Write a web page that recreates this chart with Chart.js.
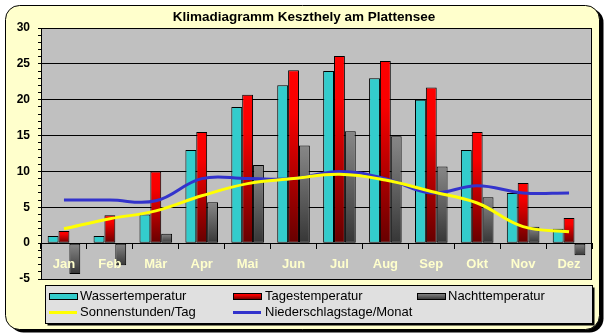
<!DOCTYPE html>
<html>
<head>
<meta charset="utf-8">
<script src="https://cdn.jsdelivr.net/npm/chart.js@4/dist/chart.umd.min.js"></script>
<style>
  html, body { margin: 0; padding: 0; background: #ffffff; }
  canvas { display: block; }
</style>
</head>
<body>
<canvas id="klima" width="609" height="336"></canvas>
<script>
// Monatswerte Keszthely am Plattensee
const monate = ['Jan', 'Feb', 'Mär', 'Apr', 'Mai', 'Jun', 'Jul', 'Aug', 'Sep', 'Okt', 'Nov', 'Dez'];
const wassertemperatur = [1, 1, 4, 13, 19, 22, 24, 23, 20, 13, 7, 2];
const tagestemperatur = [1.7, 3.9, 10, 15.5, 20.7, 24.1, 26.1, 25.4, 21.7, 15.5, 8.4, 3.5];
const nachttemperatur = [-4.3, -3.1, 1.3, 5.7, 10.9, 13.6, 15.6, 14.9, 10.7, 6.4, 2.3, -1.7];
const sonnenstunden = [2.0, 3.4, 4.5, 6.6, 8.3, 9.0, 9.6, 8.8, 7.2, 5.6, 2.3, 1.6];
const niederschlagstage = [6.0, 6.0, 5.9, 9.0, 9.0, 9.0, 10.0, 9.0, 7.0, 8.0, 7.0, 7.0];
const yTicks = { min: -5, max: 30, major: 5 };

const FONT = '"Liberation Sans", Arial, sans-serif';
const FRAME_BG = '#FFFFCC';
const PLOT_BG = '#C0C0C0';
const LEGEND_BG = '#E0E0E0';

const RED_STOPS = [[0, '#FF0000'], [0.25, '#F80000'], [1, '#660000']];
const GRAY_STOPS = [[0, '#868686'], [0.1, '#808080'], [1, '#363636']];

function gradientFor(ctx, y0, y1, stops) {
  const g = ctx.createLinearGradient(0, y0, 0, y1);
  stops.forEach(([o, c]) => g.addColorStop(o, c));
  return g;
}

// Each bar gets its own vertical gradient, light at the top edge, dark at the bottom edge
function barFill(stops, fallback) {
  return (c) => {
    const chart = c.chart;
    if (c.type !== 'data' || !chart.chartArea || !chart.scales.y) return fallback;
    const v = c.raw;
    const y = chart.scales.y;
    const top = y.getPixelForValue(Math.max(v, 0));
    const bottom = y.getPixelForValue(Math.min(v, 0));
    if (Math.abs(bottom - top) < 1) return fallback;
    return gradientFor(chart.ctx, top, bottom, stops);
  };
}

function roundRect(ctx, x, y, w, h, r) {
  ctx.beginPath();
  ctx.moveTo(x + r, y);
  ctx.lineTo(x + w - r, y);
  ctx.arcTo(x + w, y, x + w, y + r, r);
  ctx.lineTo(x + w, y + h - r);
  ctx.arcTo(x + w, y + h, x + w - r, y + h, r);
  ctx.lineTo(x + r, y + h);
  ctx.arcTo(x, y + h, x, y + h - r, r);
  ctx.lineTo(x, y + r);
  ctx.arcTo(x, y, x + r, y, r);
  ctx.closePath();
}

// Rounded frame, title, plot background and the plot border
const framePlugin = {
  id: 'frame',
  beforeDraw(chart) {
    const ctx = chart.ctx;
    const a = chart.chartArea;
    ctx.save();
    ctx.fillStyle = '#ffffff';
    ctx.fillRect(0, 0, chart.width, chart.height);
    roundRect(ctx, 9.5, 8.5, 594, 324, 14);
    ctx.fillStyle = '#000000';
    ctx.fill();
    roundRect(ctx, 5.5, 5.5, 594, 324, 14);
    ctx.fillStyle = FRAME_BG;
    ctx.fill();
    ctx.lineWidth = 1;
    ctx.strokeStyle = '#000000';
    ctx.stroke();

    ctx.fillStyle = '#000000';
    ctx.font = 'bold 13.5px ' + FONT;
    ctx.textAlign = 'center';
    ctx.textBaseline = 'middle';
    ctx.fillText('Klimadiagramm Keszthely am Plattensee', 304, 17);

    ctx.fillStyle = PLOT_BG;
    ctx.fillRect(a.left, a.top, a.right - a.left, a.bottom - a.top);
    ctx.restore();
  },
  beforeDatasetsDraw(chart) {
    const ctx = chart.ctx;
    const a = chart.chartArea;
    ctx.save();
    ctx.strokeStyle = '#000000';
    ctx.lineWidth = 1;
    ctx.strokeRect(Math.round(a.left) + 0.5, Math.round(a.top) + 0.5,
      Math.round(a.right - a.left) - 1, Math.round(a.bottom - a.top));
    ctx.restore();
  }
};

// Legend laid out as a fixed three-column grid in a shadowed box
const gridLegendPlugin = {
  id: 'gridLegend',
  afterDraw(chart) {
    const ctx = chart.ctx;
    const box = { x: 45.5, y: 285.5, w: 547, h: 38 };
    const cols = [{ sx: 49, tx: 80 }, { sx: 233, tx: 265 }, { sx: 417, tx: 448 }];
    const rows = [296, 312.5];
    const swW = 28;
    ctx.save();
    ctx.fillStyle = '#000000';
    ctx.fillRect(box.x + 2, box.y + 2, box.w, box.h);
    ctx.fillStyle = LEGEND_BG;
    ctx.fillRect(box.x, box.y, box.w, box.h);
    ctx.strokeStyle = '#000000';
    ctx.lineWidth = 1;
    ctx.strokeRect(box.x, box.y, box.w, box.h);

    ctx.font = '13px ' + FONT;
    ctx.textAlign = 'left';
    ctx.textBaseline = 'middle';
    chart.data.datasets.forEach((ds, i) => {
      const col = cols[i % 3];
      const cy = rows[Math.floor(i / 3)];
      if (ds.type === 'line') {
        ctx.strokeStyle = ds.borderColor;
        ctx.lineWidth = 3;
        ctx.beginPath();
        ctx.moveTo(col.sx, cy);
        ctx.lineTo(col.sx + swW, cy);
        ctx.stroke();
      } else {
        const top = Math.round(cy - 3) + 0.5;
        ctx.fillStyle = ds.legendStops ? gradientFor(ctx, top, top + 6, ds.legendStops) : ds.legendColor;
        ctx.fillRect(col.sx + 0.5, top, swW, 6);
        ctx.strokeStyle = '#000000';
        ctx.lineWidth = 1;
        ctx.strokeRect(col.sx + 0.5, top, swW, 6);
      }
      ctx.fillStyle = '#000000';
      ctx.fillText(ds.label, col.tx, cy);
    });
    ctx.restore();
  }
};

const barCommon = {
  type: 'bar',
  borderColor: '#000000',
  borderWidth: 1,
  borderSkipped: false,
  categoryPercentage: 0.71,
  barPercentage: 1.0,
  order: 2
};

const lineCommon = {
  type: 'line',
  borderWidth: 3,
  pointRadius: 0,
  pointHoverRadius: 0,
  tension: 0.4,
  fill: false,
  order: 1
};

new Chart(document.getElementById('klima'), {
  type: 'bar',
  data: {
    labels: monate,
    datasets: [
      Object.assign({}, barCommon, {
        label: 'Wassertemperatur',
        data: wassertemperatur,
        backgroundColor: '#33CCCC',
        legendColor: '#33CCCC'
      }),
      Object.assign({}, barCommon, {
        label: 'Tagestemperatur',
        data: tagestemperatur,
        backgroundColor: barFill(RED_STOPS, '#CC0000'),
        legendStops: RED_STOPS
      }),
      Object.assign({}, barCommon, {
        label: 'Nachttemperatur',
        data: nachttemperatur,
        backgroundColor: barFill(GRAY_STOPS, '#606060'),
        legendStops: GRAY_STOPS
      }),
      Object.assign({}, lineCommon, {
        label: 'Sonnenstunden/Tag',
        data: sonnenstunden,
        borderColor: '#FFFF00',
        backgroundColor: '#FFFF00'
      }),
      Object.assign({}, lineCommon, {
        label: 'Niederschlagstage/Monat',
        data: niederschlagstage,
        borderColor: '#3333CC',
        backgroundColor: '#3333CC',
        order: 1.5
      })
    ]
  },
  options: {
    responsive: false,
    animation: false,
    events: [],
    layout: { padding: { left: 0, top: 28, right: 17, bottom: 57 } },
    plugins: {
      legend: { display: false },
      title: { display: false },
      tooltip: { enabled: false }
    },
    scales: {
      x: {
        type: 'category',
        position: { y: 0 },
        offset: true,
        grid: {
          offset: true,
          drawOnChartArea: false,
          drawTicks: true,
          tickLength: 5,
          color: '#000000'
        },
        border: { display: true, color: '#000000', width: 1 },
        ticks: {
          z: 1,
          color: '#FFFFCC',
          font: { family: FONT, size: 13, weight: 'bold' },
          padding: 8,
          maxRotation: 0,
          autoSkip: false
        }
      },
      y: {
        position: 'left',
        min: yTicks.min,
        max: yTicks.max,
        afterFit(scale) { scale.width = 41; },
        grid: {
          drawTicks: true,
          tickLength: 3,
          color: (c) => (c.tick && c.tick.value % yTicks.major === 0) ? '#000000' : 'rgba(0,0,0,0)',
          tickColor: '#000000'
        },
        border: { display: true, color: '#000000', width: 1 },
        ticks: {
          stepSize: 1,
          autoSkip: false,
          color: '#000000',
          padding: 8,
          font: { family: FONT, size: 12, weight: 'bold' },
          callback: (v) => (v % yTicks.major === 0 ? String(v) : '')
        }
      }
    }
  },
  plugins: [framePlugin, gridLegendPlugin]
});
</script>
</body>
</html>
